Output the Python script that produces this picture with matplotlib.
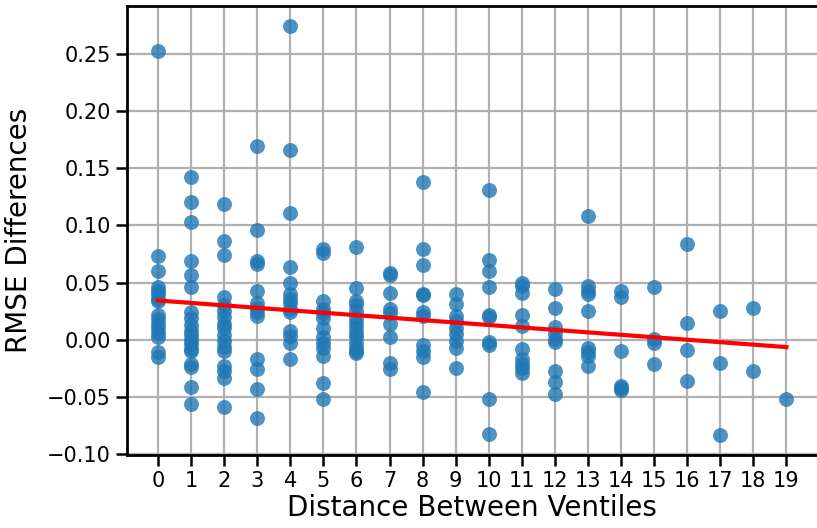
import matplotlib
matplotlib.use("Agg")
import matplotlib.pyplot as plt
import numpy as np

# RMSE differences, one list per ventile distance
d0 = [0.252, 0.073, 0.060, 0.046, 0.043, 0.040, 0.036, 0.034, 0.022, 0.018, 0.014, 0.010, 0.006, 0.002, -0.011, -0.015]
d1 = [0.142, 0.120, 0.103, 0.069, 0.057, 0.046, 0.024, 0.019, 0.013, 0.008, 0.004, 0.000, -0.004, -0.008, -0.010, -0.021, -0.024, -0.041, -0.056]
d2 = [0.119, 0.086, 0.074, 0.037, 0.030, 0.025, 0.020, 0.014, 0.010, 0.004, -0.001, -0.006, -0.010, -0.023, -0.027, -0.033, -0.059]
d3 = [0.169, 0.096, 0.069, 0.066, 0.043, 0.032, 0.028, 0.024, 0.021, -0.017, -0.026, -0.043, -0.068]
d4 = [0.274, 0.166, 0.111, 0.064, 0.050, 0.040, 0.036, 0.032, 0.027, 0.024, 0.008, 0.003, -0.003, -0.017]
d5 = [0.079, 0.076, 0.034, 0.027, 0.023, 0.019, 0.010, 0.002, -0.003, -0.007, -0.014, -0.038, -0.052]
d6 = [0.081, 0.045, 0.034, 0.030, 0.025, 0.019, 0.015, 0.010, 0.006, 0.002, -0.003, -0.007, -0.010, -0.012]
d7 = [0.058, 0.057, 0.041, 0.027, 0.023, 0.014, 0.002, -0.020, -0.026]
d8 = [0.138, 0.079, 0.065, 0.040, 0.039, 0.024, 0.021, -0.005, -0.010, -0.015, -0.046]
d9 = [0.040, 0.031, 0.021, 0.016, 0.010, 0.005, -0.001, -0.007, -0.025]
d10 = [0.131, 0.070, 0.060, 0.046, 0.022, 0.020, -0.002, -0.005, -0.052, -0.082]
d11 = [0.050, 0.047, 0.041, 0.022, 0.012, -0.008, -0.017, -0.021, -0.025, -0.029]
d12 = [0.044, 0.028, 0.011, 0.006, 0.001, -0.002, -0.027, -0.037, -0.047]
d13 = [0.108, 0.047, 0.043, 0.040, 0.025, -0.007, -0.011, -0.014, -0.023]
d14 = [0.043, 0.037, -0.010, -0.040, -0.042, -0.044]
d15 = [0.046, 0.001, -0.003, -0.021]
d16 = [0.084, 0.015, -0.009, -0.036]
d17 = [0.025, -0.020, -0.083]
d18 = [0.028, -0.027]
d19 = [-0.052]

groups = [d0, d1, d2, d3, d4, d5, d6, d7, d8, d9, d10,
          d11, d12, d13, d14, d15, d16, d17, d18, d19]
distances = list(range(len(groups)))

x = np.concatenate([[d] * len(g) for d, g in zip(distances, groups)])
y = np.concatenate(groups)

# linear fit over the data range
slope, intercept = np.polyfit(x, y, 1)
xfit = np.array([x.min(), x.max()])

fig = plt.figure(figsize=(8.17, 5.28), dpi=100)
ax = fig.add_axes([0.155, 0.138, 0.846, 0.851])

ax.scatter(x, y, s=115, color="#1f77b4", alpha=0.8, linewidths=0, zorder=3)
ax.plot(xfit, slope * xfit + intercept, color="red", linewidth=3, zorder=4)

ax.set_xticks(distances)
ax.grid(True, color="#b0b0b0", linewidth=1.6)
ax.set_axisbelow(True)
for s in ax.spines.values():
    s.set_linewidth(2)
ax.tick_params(labelsize=15, length=8, width=1.8)
ax.set_xlabel("Distance Between Ventiles", fontsize=20, labelpad=2)
ax.set_ylabel("RMSE Differences", fontsize=20, labelpad=10)

fig.savefig("out.png", dpi=100)
